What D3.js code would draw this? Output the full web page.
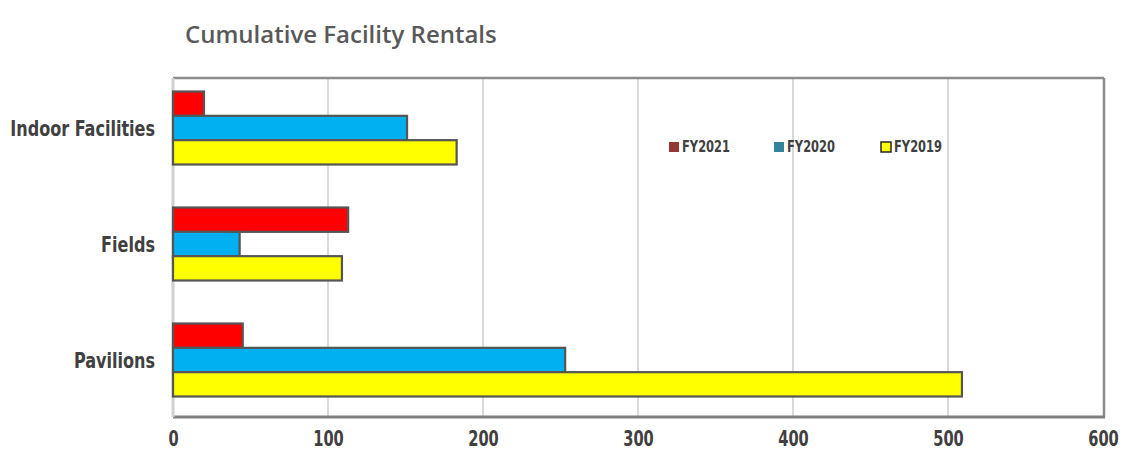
<!DOCTYPE html>
<html>
<head>
<meta charset="utf-8">
<script src="https://cdn.jsdelivr.net/npm/d3@7"></script>
<style>
  html, body { margin: 0; padding: 0; background: #fff; }
  svg { display: block; }
  .narrow { font-family: "Liberation Sans Narrow", "DejaVu Sans Condensed", "Arial Narrow", sans-serif; font-weight: bold; }
</style>
</head>
<body>
<svg id="chart" width="1125" height="458"></svg>
<script>
// Chart data
const categories = ["Indoor Facilities", "Fields", "Pavilions"];
const seriesNames = ["FY2021", "FY2020", "FY2019"];
const fy2021 = [20, 113, 45];
const fy2020 = [151, 43, 253];
const fy2019 = [183, 109, 509];
const xTicks = [0, 100, 200, 300, 400, 500, 600];

const barColors = ["#ff0000", "#00b0f0", "#ffff00"];
const legendColors = ["#953735", "#31849b", "#ffff00"];

const seriesValues = [fy2021, fy2020, fy2019];
const rows = categories.map((c, i) => ({
  category: c,
  values: seriesNames.map((s, j) => ({ series: s, idx: j, value: seriesValues[j][i] }))
}));

const svg = d3.select("#chart");
svg.append("rect").attr("width", 1125).attr("height", 458).attr("fill", "#fff");

const plot = { left: 173, right: 1104, top: 78, bottom: 417 };

const x = d3.scaleLinear().domain([0, 600]).range([173, 1103]);
const y = d3.scaleBand().domain(categories).range([70, 418]).padding(0);
const yInner = d3.scaleBand().domain(seriesNames).range([0, 73]).padding(0);

// Title
svg.append("text")
  .attr("x", 185).attr("y", 43)
  .attr("font-family", "'Open Sans', Lato, sans-serif")
  .attr("font-size", 24)
  .attr("font-weight", 600)
  .attr("fill", "#595959")
  .text("Cumulative Facility Rentals");

// Vertical gridlines
svg.append("g").selectAll("line")
  .data(xTicks.filter(t => t > 0 && t < 600))
  .join("line")
  .attr("x1", d => x(d)).attr("x2", d => x(d))
  .attr("y1", plot.top).attr("y2", plot.bottom)
  .attr("stroke", "#d9d9d9").attr("stroke-width", 2);

// Plot frame
svg.append("line").attr("x1", plot.left).attr("x2", plot.right)
  .attr("y1", plot.top).attr("y2", plot.top)
  .attr("stroke", "#8c8c8c").attr("stroke-width", 2.5);
svg.append("line").attr("x1", plot.right).attr("x2", plot.right)
  .attr("y1", plot.top).attr("y2", plot.bottom)
  .attr("stroke", "#8c8c8c").attr("stroke-width", 2.5);
svg.append("line").attr("x1", plot.left).attr("x2", plot.right + 1)
  .attr("y1", plot.bottom).attr("y2", plot.bottom)
  .attr("stroke", "#7f7f7f").attr("stroke-width", 3);
svg.append("line").attr("x1", plot.left).attr("x2", plot.left)
  .attr("y1", plot.top).attr("y2", plot.bottom)
  .attr("stroke", "#d0d0d0").attr("stroke-width", 3);

// Bars
const groups = svg.append("g").selectAll("g")
  .data(rows)
  .join("g")
  .attr("transform", d => `translate(0,${y(d.category) + (y.bandwidth() - 73) / 2})`);

groups.selectAll("rect")
  .data(d => d.values)
  .join("rect")
  .attr("x", x(0))
  .attr("y", d => yInner(d.series))
  .attr("width", d => x(d.value) - x(0))
  .attr("height", yInner.bandwidth())
  .attr("fill", d => barColors[d.idx])
  .attr("stroke", "#555555")
  .attr("stroke-width", 2.2);

// Category labels (condensed bold)
svg.append("g").selectAll("text")
  .data(categories)
  .join("text")
  .attr("class", "narrow")
  .attr("transform", d => `translate(155,${y(d) + y.bandwidth() / 2 + 2}) scale(0.85,1)`)
  .attr("text-anchor", "end")
  .attr("dominant-baseline", "middle")
  .attr("font-size", 21)
  .attr("fill", "#404040")
  .text(d => d);

// Bottom axis
const xAxis = d3.axisBottom(x).tickValues(xTicks).tickSize(0).tickPadding(12);
const ax = svg.append("g")
  .attr("transform", `translate(0,${plot.bottom + 1})`)
  .call(xAxis);
ax.select(".domain").remove();
ax.selectAll("text")
  .attr("class", "narrow")
  .attr("font-size", 22)
  .attr("transform", "scale(0.74,1)")
  .attr("fill", "#404040");

// Legend
const legendX = [669, 774, 881];
const legend = svg.append("g").selectAll("g")
  .data(seriesNames)
  .join("g")
  .attr("transform", (d, i) => `translate(${legendX[i]},142)`);
legend.append("rect")
  .attr("width", 10).attr("height", 10)
  .attr("fill", (d, i) => legendColors[i])
  .attr("stroke", (d, i) => i === 2 ? "#262626" : "none")
  .attr("stroke-width", 1.5);
legend.append("text")
  .attr("class", "narrow")
  .attr("transform", "translate(13,6) scale(0.85,1)")
  .attr("dominant-baseline", "middle")
  .attr("font-size", 15)
  .attr("fill", "#404040")
  .text(d => d);
</script>
</body>
</html>
